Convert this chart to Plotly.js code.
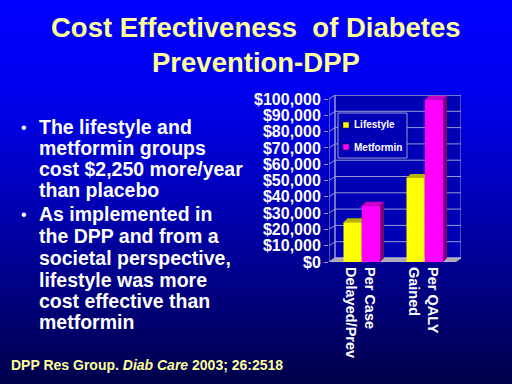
<!DOCTYPE html>
<html>
<head>
<meta charset="utf-8">
<script src="https://cdn.plot.ly/plotly-3.0.1.min.js"></script>
<style>
  html, body { margin:0; padding:0; width:512px; height:384px; overflow:hidden;
    background: linear-gradient(to bottom, #0000ff 0%, #0000f2 22%, #0000c0 48%, #00008a 72%, #00004a 100%); }
  #chart { width:512px; height:384px; }
</style>
</head>
<body>
<div id="chart"></div>
<script>
// ---- data ----
const categories = ['Per Case<br>Delayed/Prev', 'Per QALY<br>Gained'];
const seriesNames = ['Lifestyle', 'Metformin'];
const lifestyle = [24400, 51600];
const metformin = [34500, 99600];
const yTicks = [0, 10000, 20000, 30000, 40000, 50000, 60000, 70000, 80000, 90000, 100000];
const yTickText = yTicks.map(v => '$' + v.toLocaleString('en-US'));
const titleLines = ['Cost Effectiveness  of Diabetes', 'Prevention-DPP'];
const bullet1 = ['The lifestyle and', 'metformin groups', 'cost $2,250 more/year', 'than placebo'];
const bullet2 = ['As implemented in', 'the DPP and from a', 'societal perspective,', 'lifestyle was more', 'cost effective than', 'metformin'];
const footer = 'DPP Res Group. <i>Diab Care</i> 2003; 26:2518';

// ---- geometry / style ----
const W = 512, H = 384;
const FONT = 'Liberation Sans, Arial, sans-serif';
const frontLeft = 329, frontWidth = 126, wallDx = 6;
const zeroY = 262, plotH = 163, wallDyPx = 4;
const yMax = yTicks[yTicks.length - 1];
const xs = categories.length / frontWidth;      // category units per px
const ys = yMax / plotH;                          // value units per px
const wdx = wallDx * xs, wdy = wallDyPx * ys;     // wall depth
const bdx = 4 * xs, bdy = 4 * ys;                 // bar depth
const bw = 0.29, sh = 0.02;
const xMin = -0.5, xMax = categories.length - 0.5;
const px = v => v / W, py = v => 1 - v / H;
const xIdx = categories.map((c, i) => i);

const gridCol = '#9a9ad0';
const shapes = [];
// back wall
shapes.push({type:'rect', xref:'x', yref:'y', layer:'below', x0:xMin + wdx, x1:xMax + wdx, y0:wdy, y1:yMax + wdy,
  fillcolor:'#0000b4', line:{color:gridCol, width:1}});
// floor
shapes.push({type:'path', xref:'x', yref:'y', layer:'below',
  path:`M${xMin},0 L${xMax},0 L${xMax + wdx},${wdy} L${xMin + wdx},${wdy} Z`,
  fillcolor:'#a8a8b8', line:{color:'#c0c0c8', width:1}});
// grid lines on back wall + side wall diagonals
yTicks.forEach(v => {
  if (v > 0) shapes.push({type:'line', xref:'x', yref:'y', layer:'below', x0:xMin + wdx, x1:xMax + wdx, y0:v + wdy, y1:v + wdy, line:{color:gridCol, width:1}});
  shapes.push({type:'line', xref:'x', yref:'y', layer:'below', x0:xMin, x1:xMin + wdx, y0:v, y1:v + wdy, line:{color:gridCol, width:1}});
});
// front axis line
shapes.push({type:'line', xref:'x', yref:'y', layer:'below', x0:xMin, x1:xMin, y0:0, y1:yMax, line:{color:gridCol, width:1}});
// back-left vertical edge
shapes.push({type:'line', xref:'x', yref:'y', layer:'below', x0:xMin + wdx, x1:xMin + wdx, y0:wdy, y1:yMax + wdy, line:{color:gridCol, width:1}});

// 3D faces of bars
xIdx.forEach(i => {
  const l0 = i - bw + sh, l1 = i + sh, lv = lifestyle[i];
  shapes.push({type:'path', xref:'x', yref:'y', layer:'below',
    path:`M${l0},${lv} L${l1},${lv} L${l1 + bdx},${lv + bdy} L${l0 + bdx},${lv + bdy} Z`,
    fillcolor:'#b4b400', line:{width:0}});
  const m0 = i + sh, m1 = i + sh + bw, mv = metformin[i];
  shapes.push({type:'path', xref:'x', yref:'y', layer:'below',
    path:`M${m0},${mv} L${m1},${mv} L${m1 + bdx},${mv + bdy} L${m0 + bdx},${mv + bdy} Z`,
    fillcolor:'#c800c8', line:{width:0}});
  shapes.push({type:'path', xref:'x', yref:'y', layer:'below',
    path:`M${m1},0 L${m1 + bdx},${bdy} L${m1 + bdx},${mv + bdy} L${m1},${mv} Z`,
    fillcolor:'#80007a', line:{width:0}});
});

// manual legend
shapes.push({type:'rect', xref:'paper', yref:'paper', x0:px(338), x1:px(407), y0:py(158), y1:py(113),
  fillcolor:'#0000b4', line:{color:'#9a9ad0', width:1}});
const legendColors = ['#ffff00', '#ff00ff'];
const legendY = [125, 147];
seriesNames.forEach((n, k) => {
  shapes.push({type:'rect', xref:'paper', yref:'paper', x0:px(343), x1:px(349), y0:py(legendY[k] + 3), y1:py(legendY[k] - 3),
    fillcolor:legendColors[k], line:{color:'#202020', width:0.5}});
});

const annotations = [];
seriesNames.forEach((n, k) => {
  annotations.push({xref:'paper', yref:'paper', x:px(352), y:py(legendY[k]), xanchor:'left', yanchor:'middle', showarrow:false,
    text:n, font:{family:FONT, size:10, color:'white', weight:'bold'}});
});
// title
const titleY = [28, 62];
titleLines.forEach((t, k) => {
  annotations.push({xref:'paper', yref:'paper', x:0.5, y:py(titleY[k]), xanchor:'center', yanchor:'middle', showarrow:false,
    text:t, font:{family:FONT, size:27.5, color:'#ffff99', weight:'bold'}});
});
// bullets
const b1y = [127, 148, 169, 190], b2y = [214, 236, 258, 280, 301, 322];
const bulletFont = {family:FONT, size:19.5, color:'white', weight:'bold'};
bullet1.forEach((t, k) => annotations.push({xref:'paper', yref:'paper', x:px(37), y:py(b1y[k]), xanchor:'left', yanchor:'middle', showarrow:false, text:t, font:bulletFont}));
bullet2.forEach((t, k) => annotations.push({xref:'paper', yref:'paper', x:px(37), y:py(b2y[k]), xanchor:'left', yanchor:'middle', showarrow:false, text:t, font:bulletFont}));
[b1y[0], b2y[0]].forEach(y => annotations.push({xref:'paper', yref:'paper', x:px(19), y:py(y), xanchor:'left', yanchor:'middle', showarrow:false, text:'•', font:{family:FONT, size:16, color:'white'}}));
// footer
annotations.push({xref:'paper', yref:'paper', x:px(9), y:py(365), xanchor:'left', yanchor:'middle', showarrow:false,
  text:footer, font:{family:FONT, size:14, color:'#ffff99', weight:'bold'}});

const traces = [
  {type:'bar', name:seriesNames[0], x:xIdx, y:lifestyle, width:bw, offset:-bw + sh, marker:{color:'#ffff00', line:{width:0}}, hoverinfo:'skip'},
  {type:'bar', name:seriesNames[1], x:xIdx, y:metformin, width:bw, offset:sh, marker:{color:'#ff00ff', line:{width:0}}, hoverinfo:'skip'}
];

const layout = {
  width:W, height:H, margin:{l:0, r:0, t:0, b:0},
  paper_bgcolor:'rgba(0,0,0,0)', plot_bgcolor:'rgba(0,0,0,0)',
  showlegend:false, barmode:'overlay',
  xaxis:{domain:[px(frontLeft), px(frontLeft + frontWidth + wallDx)], range:[xMin, xMax + wdx], type:'linear',
    tickvals:xIdx, ticktext:categories, tickangle:90, showgrid:false, zeroline:false, showline:false, ticks:'',
    ticklabelstandoff:4,
    tickfont:{family:FONT, size:14.5, color:'white', weight:'bold'}, fixedrange:true},
  yaxis:{domain:[1 - zeroY / H, 1 - (zeroY - plotH - wallDyPx) / H], range:[0, yMax + wdy],
    tickvals:yTicks, ticktext:yTickText, showgrid:false, zeroline:false, showline:false,
    ticks:'outside', ticklen:4, tickcolor:gridCol,
    tickfont:{family:FONT, size:16, color:'white', weight:'bold'}, fixedrange:true},
  shapes:shapes, annotations:annotations
};

Plotly.newPlot('chart', traces, layout, {staticPlot:true, displayModeBar:false});
</script>
</body>
</html>
